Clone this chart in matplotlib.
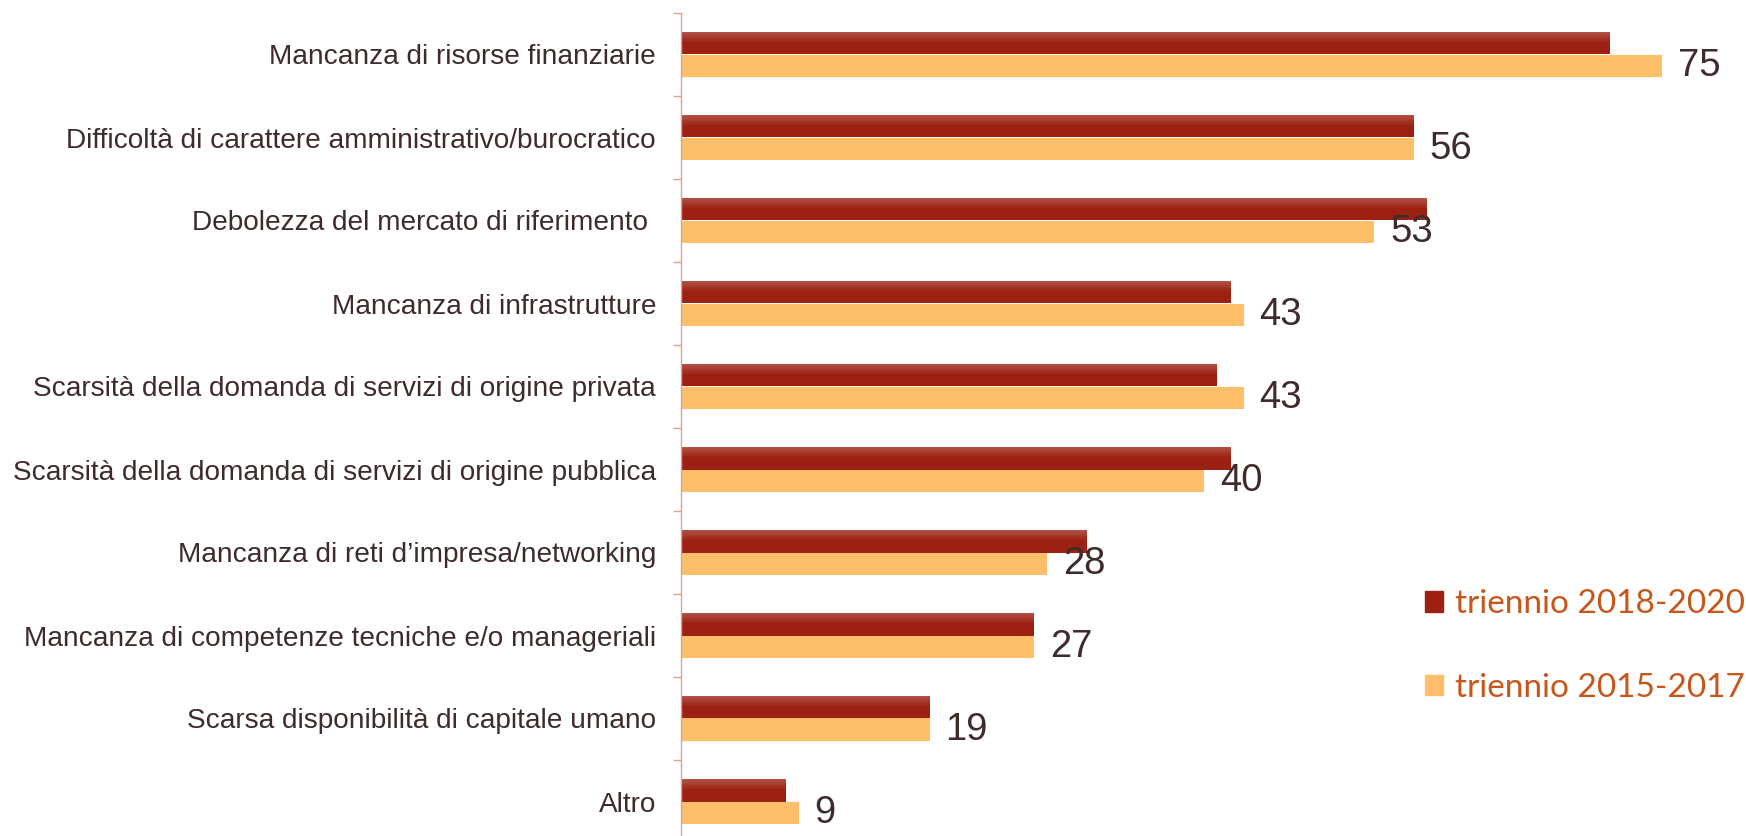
import matplotlib.pyplot as plt
from matplotlib.patches import Patch
import numpy as np

# categorie (dall'alto in basso)
categorie = [
    "Mancanza di risorse finanziarie",
    "Difficoltà di carattere amministrativo/burocratico",
    "Debolezza del mercato di riferimento ",
    "Mancanza di infrastrutture",
    "Scarsità della domanda di servizi di origine privata",
    "Scarsità della domanda di servizi di origine pubblica",
    "Mancanza di reti d\u2019impresa/networking",
    "Mancanza di competenze tecniche e/o manageriali",
    "Scarsa disponibilità di capitale umano",
    "Altro",
]
val_2018_2020 = [71, 56, 57, 42, 41, 42, 31, 27, 19, 8]
val_2015_2017 = [75, 56, 53, 43, 43, 40, 28, 27, 19, 9]

col_scuro = "#9C2113"
col_chiaro = "#FFBE69"
col_testo = "#3E2C2B"
col_asse = "#E0A090"

fig = plt.figure(figsize=(17.46, 8.36), dpi=100)
ax = fig.add_axes([681 / 1746, -7 / 836, 1065 / 1746, 830 / 836])

y = np.arange(len(categorie))
h = 0.275
ax.barh(y - h / 2, val_2018_2020, height=h, color=col_scuro)
# leggera sfumatura nella parte alta delle barre scure
n_strisce = 8
for k in range(n_strisce):
    hs = h * 0.45 / n_strisce
    ax.barh(y - h + hs * (k + 0.5), val_2018_2020, height=hs, color="white",
            alpha=0.22 * (1 - k / n_strisce), linewidth=0)
ax.barh(y + h / 2, val_2015_2017, height=h, color=col_chiaro)

# etichette solo per la serie 2015-2017
for yi, v in zip(y, val_2015_2017):
    ax.text(v + 1.2, yi + h / 2, str(v), va="center", ha="left",
            fontsize=27.5, color=col_testo, family="Liberation Sans")

ax.set_xlim(0, 81.4)
ax.set_ylim(len(categorie) - 0.5, -0.5)
ax.set_xticks([])
ax.set_yticks(y)
ax.set_yticklabels(categorie, fontsize=20.2, color=col_testo, family="Liberation Sans")
ax.set_yticks(np.arange(-0.5, len(categorie)), minor=True)
ax.tick_params(axis="y", which="major", length=0, pad=18)
ax.tick_params(axis="y", which="minor", length=6, color=col_asse, width=1)

for s in ["top", "right", "bottom"]:
    ax.spines[s].set_visible(False)
ax.spines["left"].set_color(col_asse)
ax.spines["left"].set_linewidth(1)

handles = [Patch(color=col_scuro), Patch(color=col_chiaro)]
leg = fig.legend(handles, ["triennio 2018-2020", "triennio 2015-2017"],
                 loc="center left", bbox_to_anchor=(1425 / 1746, 1 - 646 / 836),
                 frameon=False, labelspacing=1.6, handlelength=0.55, handleheight=0.55,
                 handletextpad=0.35, borderpad=0, borderaxespad=0,
                 prop={"family": "Lato", "size": 24})
for t in leg.get_texts():
    t.set_color("#C8561A")

plt.savefig("out.png", dpi=100)
